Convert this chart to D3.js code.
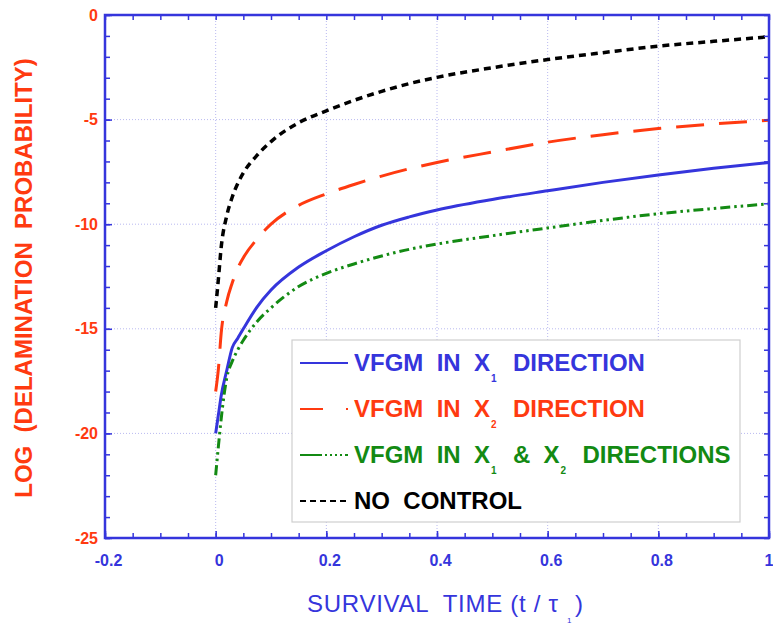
<!DOCTYPE html>
<html>
<head>
<meta charset="utf-8">
<script src="https://cdn.jsdelivr.net/npm/d3@7"></script>
<style>
  html, body { margin: 0; padding: 0; background: #fff; }
  svg { display: block; }
  text { font-family: "Liberation Sans", Arial, Helvetica, sans-serif; white-space: pre; }
</style>
</head>
<body>
<svg id="chart" width="773" height="625"></svg>
<script>
// Survival time (t / tau_1) at which each curve is sampled
const survivalTime = [0, 0.005, 0.01, 0.02, 0.03, 0.04, 0.05, 0.075, 0.1, 0.15, 0.2, 0.25, 0.3, 0.35, 0.4, 0.5, 0.6, 0.7, 0.8, 0.9, 1.0];

// log(delamination probability) for each control case
const vfgmX1 = [-20, -19.1, -18.2, -17.0, -15.9, -15.45, -15.0, -13.95, -13.15, -12.05, -11.27, -10.6, -10.05, -9.65, -9.32, -8.82, -8.4, -8.0, -7.65, -7.33, -7.05];
const vfgmX2 = [-18.0, -16.9, -15.2, -13.7, -12.8, -12.1, -11.6, -10.7, -10.0, -9.1, -8.55, -8.1, -7.7, -7.35, -7.05, -6.55, -6.08, -5.72, -5.43, -5.21, -5.03];
const vfgmX1X2 = [-22.0, -20.6, -19.3, -17.35, -16.55, -16.0, -15.55, -14.65, -14.0, -12.98, -12.35, -11.9, -11.52, -11.2, -10.95, -10.55, -10.18, -9.82, -9.5, -9.25, -9.03];
const noControl = [-14.0, -12.6, -11.1, -9.6, -8.7, -8.05, -7.55, -6.7, -6.05, -5.15, -4.58, -4.08, -3.65, -3.28, -2.98, -2.52, -2.13, -1.8, -1.49, -1.26, -1.04];

// Axis ticks
const xMajorTicks = [-0.2, 0, 0.2, 0.4, 0.6, 0.8, 1];
const xTickLabels = ["-0.2", "0", "0.2", "0.4", "0.6", "0.8", "1"];
const yMajorTicks = [-25, -20, -15, -10, -5, 0];
const yTickLabels = ["-25", "-20", "-15", "-10", "-5", "0"];
const xGridValues = [0, 0.2, 0.4, 0.6, 0.8];
const yGridValues = [-20, -15, -10, -5];

const BLUE = "#3535dc";
const RED = "#ff3a10";
const GREEN = "#138a13";
const BLACK = "#000000";

const series = [
  { name: "x1", values: vfgmX1, color: BLUE, width: 3, dash: null,
    legendDash: null, label: ["VFGM  IN  X", "1", "  DIRECTION"] },
  { name: "x2", values: vfgmX2, color: RED, width: 3, dash: "28,15",
    legendDash: "23,23", label: ["VFGM  IN  X", "2", "  DIRECTION"] },
  { name: "x1x2", values: vfgmX1X2, color: GREEN, width: 3, dash: "10,4,2.5,4,2.5,4",
    legendDash: "22,3,2,3,2,3,2,3,2,3", label: ["VFGM  IN  X", "1", "  &  X", "2", "  DIRECTIONS"] },
  { name: "none", values: noControl, color: BLACK, width: 3.5, dash: "7,5",
    legendDash: "6,4", label: ["NO  CONTROL"] }
];

const svg = d3.select("#chart");
const plotLeft = 105, plotRight = 769, plotTop = 15, plotBottom = 538;

const x = d3.scaleLinear().domain([-0.2, 1]).range([plotLeft, plotRight]);
const y = d3.scaleLinear().domain([-25, 0]).range([plotBottom, plotTop]);

const xMinor = d3.range(-0.2, 1.0001, 0.05).map(v => +v.toFixed(2));
const yMinor = d3.range(-25, 0.001, 1);

// Dotted grid
const grid = svg.append("g");
grid.selectAll(".gx").data(xGridValues).join("line")
  .attr("x1", d => x(d)).attr("x2", d => x(d))
  .attr("y1", plotTop).attr("y2", plotBottom)
  .attr("stroke", "#b9b9f0").attr("stroke-width", 1).attr("stroke-dasharray", "1,2");
grid.selectAll(".gy").data(yGridValues).join("line")
  .attr("x1", plotLeft).attr("x2", plotRight)
  .attr("y1", d => y(d)).attr("y2", d => y(d))
  .attr("stroke", "#b9b9f0").attr("stroke-width", 1).attr("stroke-dasharray", "1,2");

// Curves
const line = d3.line()
  .x((d, i) => x(survivalTime[i]))
  .y(d => y(d))
  .curve(d3.curveMonotoneX);

svg.append("g").selectAll("path").data(series).join("path")
  .attr("d", s => line(s.values))
  .attr("fill", "none")
  .attr("stroke", s => s.color)
  .attr("stroke-width", s => s.width)
  .attr("stroke-dasharray", s => s.dash);

// Axes with inward ticks on all four sides
function styleAxis(g, color) {
  g.select(".domain").remove();
  g.selectAll(".tick line").attr("stroke", BLUE).attr("stroke-width", 1.5);
  g.selectAll(".tick text").attr("fill", color);
}

svg.append("g").attr("transform", `translate(0,${plotBottom})`)
  .call(d3.axisBottom(x).tickValues(xMinor).tickSize(-5).tickFormat(""))
  .call(g => styleAxis(g, BLUE));
svg.append("g").attr("transform", `translate(0,${plotBottom})`)
  .call(d3.axisBottom(x).tickValues(xMajorTicks).tickSize(-7).tickPadding(17)
    .tickFormat((d, i) => xTickLabels[i]))
  .call(g => styleAxis(g, BLUE))
  .call(g => g.selectAll(".tick text")
    .attr("font-size", 16).attr("font-weight", "bold").attr("dx", 3))
  // the last label sits at the right edge of the page
  .call(g => g.selectAll(".tick text").filter(d => d === 1)
    .attr("text-anchor", "end").attr("dx", 4));
svg.append("g").attr("transform", `translate(0,${plotTop})`)
  .call(d3.axisTop(x).tickValues(xMinor).tickSize(-5).tickFormat(""))
  .call(g => styleAxis(g, BLUE));

svg.append("g").attr("transform", `translate(${plotLeft},0)`)
  .call(d3.axisLeft(y).tickValues(yMinor).tickSize(-5).tickFormat(""))
  .call(g => styleAxis(g, RED));
svg.append("g").attr("transform", `translate(${plotLeft},0)`)
  .call(d3.axisLeft(y).tickValues(yMajorTicks).tickSize(-7).tickPadding(7)
    .tickFormat((d, i) => yTickLabels[i]))
  .call(g => styleAxis(g, RED))
  .call(g => g.selectAll(".tick text")
    .attr("font-size", 16).attr("font-weight", "bold"));
svg.append("g").attr("transform", `translate(${plotRight},0)`)
  .call(d3.axisRight(y).tickValues(yMinor).tickSize(-5).tickFormat(""))
  .call(g => styleAxis(g, RED));

// Plot frame
svg.append("rect")
  .attr("x", plotLeft).attr("y", plotTop)
  .attr("width", plotRight - plotLeft).attr("height", plotBottom - plotTop)
  .attr("fill", "none").attr("stroke", BLUE).attr("stroke-width", 2.5);

// Legend
const legend = svg.append("g").attr("transform", "translate(292,340)");
legend.append("rect")
  .attr("width", 448).attr("height", 182)
  .attr("fill", "#fff").attr("stroke", "#cfcfcf").attr("stroke-width", 1.2);

const rows = legend.selectAll(".row").data(series).join("g")
  .attr("transform", (d, i) => `translate(0,${23 + i * 46})`);
rows.append("line")
  .attr("x1", 8).attr("x2", 56).attr("y1", 0).attr("y2", 0)
  .attr("stroke", d => d.color).attr("stroke-width", 2)
  .attr("stroke-dasharray", d => d.legendDash);
rows.each(function (d) {
  const t = d3.select(this).append("text")
    .attr("x", 61).attr("y", 8)
    .attr("fill", d.color).attr("font-size", 24).attr("font-weight", "bold");
  d.label.forEach((part, k) => {
    const isSub = k % 2 === 1;
    t.append("tspan")
      .attr("dy", k === 0 ? 0 : (isSub ? 11 : -11))
      .attr("dx", !isSub && k > 0 ? 3 : 1)
      .attr("font-size", isSub ? 10 : 24)
      .text(part);
  });
});

// X-axis title with subscripted tau
svg.append("text").attr("x", 307).attr("y", 612)
  .attr("fill", BLUE).attr("font-size", 24)
  .attr("textLength", 251).attr("lengthAdjust", "spacing")
  .text("SURVIVAL  TIME (t / \u03c4");
svg.append("text").attr("x", 567).attr("y", 623)
  .attr("fill", BLUE).attr("font-size", 8).text("1");
svg.append("text").attr("x", 575).attr("y", 612)
  .attr("fill", BLUE).attr("font-size", 24).text(")");

svg.append("text")
  .attr("transform", "translate(32,278) rotate(-90)")
  .attr("text-anchor", "middle")
  .attr("fill", RED).attr("font-size", 24).attr("font-weight", "bold")
  .text("LOG  (DELAMINATION  PROBABILITY)");
</script>
</body>
</html>
